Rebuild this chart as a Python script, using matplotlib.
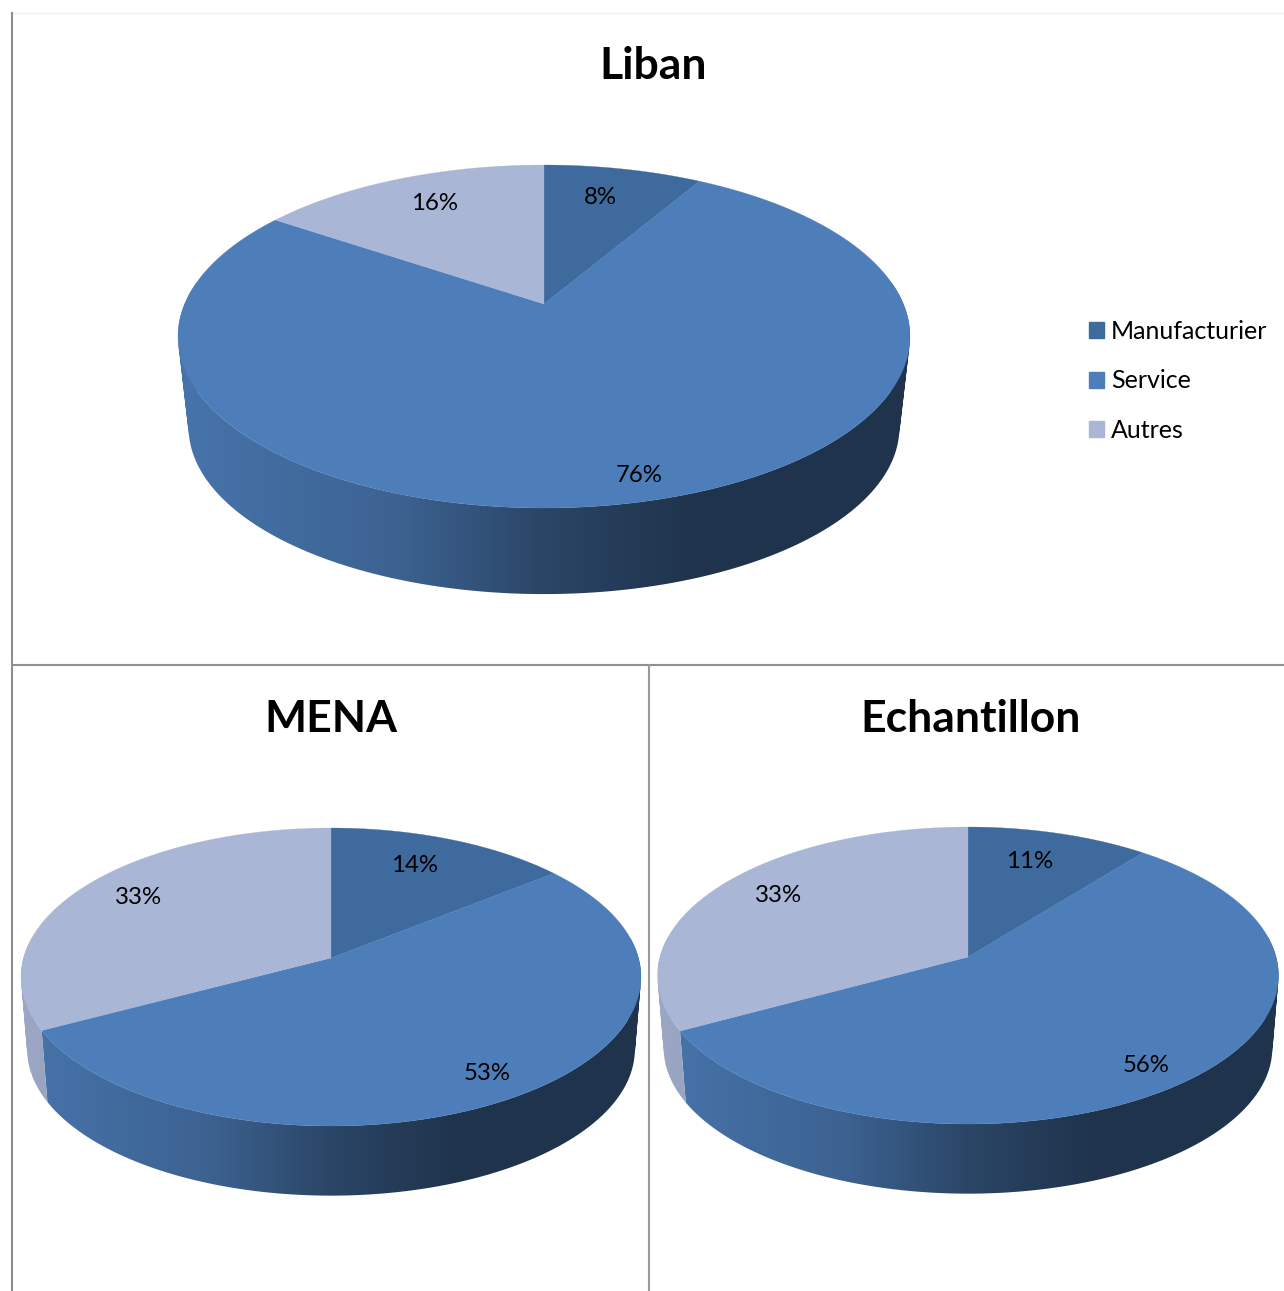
import numpy as np
import matplotlib
matplotlib.use('Agg')
import matplotlib.pyplot as plt
from matplotlib.patches import Patch
from matplotlib.path import Path

plt.rcParams['font.family'] = ['Lato', 'DejaVu Sans']

categories = ['Manufacturier', 'Service', 'Autres']
# read from the slice edges, labels show them rounded
liban = [8.4, 76.1, 15.5]
mena = [14.3, 53.0, 32.7]
echantillon = [10.7, 56.4, 32.9]
titles = ['Liban', 'MENA', 'Echantillon']

top_colors = ['#3f6a9d', '#4d7eba', '#a9b6d6']
shade_x = [0.0, 0.3, 0.5, 0.7, 1.0]
shade_f = [0.92, 0.78, 0.55, 0.41, 0.41]

# apex x/y, top, bottom, left, right of top face, wall depth, lower disc scale
geom = [
    (544, 304, 165, 508, 178, 910, 92, 0.971),
    (331, 958, 828, 1126, 21, 641, 73, 0.98),
    (968, 957, 827, 1124, 658, 1279, 73, 0.98),
]
label_pos = [
    [(600, 198), (639, 476), (435, 204)],
    [(415, 865), (487, 1073), (139, 897)],
    [(1030, 861), (1146, 1065), (778, 895)],
]
title_pos = [(653, 66), (331, 719), (971, 719)]


def rim(a, g, scale=1.0, drop=0):
    # circle point seen in perspective, a clockwise from the top
    ax0, ay0, top, bottom, left, right = g[:6]
    up = ay0 - top
    down = bottom - ay0
    k = (down - up) / (down + up)
    sy = up * (1 + k)
    sx = (right - left) / 2 * np.sqrt(1 - k * k)
    u = np.sin(a)
    v = np.cos(a)
    w = 1 + k * v
    return ax0 + scale * sx * u / w, ay0 + drop - scale * sy * v / w


def wall_path(a, g):
    # all the little quads of a wall in one path, same winding
    verts = []
    codes = []
    depth, scale = g[6], g[7]
    for a0, a1 in zip(a[:-1], a[1:]):
        q = [rim(a0, g), rim(a1, g), rim(a1, g, scale, depth), rim(a0, g, scale, depth)]
        q = np.array(q)
        area = np.sum(q[:, 0] * np.roll(q[:, 1], -1) - np.roll(q[:, 0], -1) * q[:, 1])
        if area < 0:
            q = q[::-1]
        verts += list(q) + [q[0]]
        codes += [Path.MOVETO, Path.LINETO, Path.LINETO, Path.LINETO, Path.CLOSEPOLY]
    return Path(np.array(verts), codes)


def pie3d(ax, values, g):
    edges = np.cumsum([0] + values) / sum(values) * 2 * np.pi
    left, right = g[4], g[5]
    xs = np.linspace(0, 1, 400)
    shade = np.interp(xs, shade_x, shade_f)
    for i in range(len(values)):
        a = np.linspace(edges[i], edges[i + 1], 200)
        a = a[np.cos(a) < 0.4]
        if len(a) < 2:
            continue
        rgb = np.array(matplotlib.colors.to_rgb(top_colors[i]))
        grad = (shade[:, None] * rgb)[None, :, :]
        im = ax.imshow(grad, extent=(left, right, g[3] + g[6] + 5, g[1] - 20), aspect='auto',
                       interpolation='bilinear', zorder=2)
        im.set_clip_path(wall_path(a, g), transform=ax.transData)
    for i in range(len(values)):
        a = np.linspace(edges[i], edges[i + 1], 300)
        x, y = rim(a, g)
        ax.fill(np.r_[g[0], x], np.r_[g[1], y], color=top_colors[i], lw=0.2, zorder=3)


fig = plt.figure(figsize=(12.84, 12.91), dpi=100)
ax = fig.add_axes([0, 0, 1, 1])
ax.axis('off')

ax.plot([12, 1284], [13, 13], color='#eeeeee', lw=1, zorder=1)
ax.plot([12, 12], [13, 1291], color='#8f8f8f', lw=1.5, zorder=1)
ax.plot([12, 1284], [665, 665], color='#8f8f8f', lw=1.5, zorder=1)
ax.plot([649, 649], [665, 1291], color='#9a9a9a', lw=1.5, zorder=1)

for values, g, pos, title, tpos in zip([liban, mena, echantillon], geom, label_pos, titles, title_pos):
    pie3d(ax, values, g)
    for v, (x, y) in zip(values, pos):
        ax.text(x, y, str(round(v)) + '%', ha='center', va='center', fontsize=17.3, color='black', zorder=5)
    ax.text(tpos[0], tpos[1], title, ha='center', va='center', fontsize=32, fontweight='bold', color='black', zorder=5)

ax.set_xlim(0, 1284)
ax.set_ylim(1291, 0)

handles = [Patch(facecolor=c, edgecolor=c, label=n) for c, n in zip(top_colors, categories)]
ax.legend(handles=handles, loc='center left', bbox_to_anchor=(1089 / 1284, 1 - 381 / 1291), frameon=False,
          fontsize=18, handlelength=0.6, handleheight=0.6, handletextpad=0.28, labelspacing=1.06,
          borderpad=0, borderaxespad=0, labelcolor='black')

fig.savefig('out.png', dpi=100)
